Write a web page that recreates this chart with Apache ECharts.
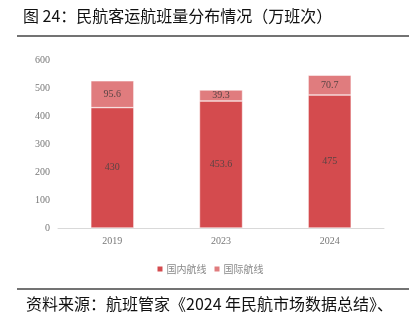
<!DOCTYPE html>
<html><head><meta charset="utf-8">
<script src="https://cdn.jsdelivr.net/npm/echarts@6/dist/echarts.min.js"></script>
<style>html,body{margin:0;padding:0;background:#fff}#c{width:419px;height:324px}</style>
</head><body><div id="c"></div>
<script>
var categories = ['2019', '2023', '2024'];
var domestic = [430, 453.6, 475];
var international = [95.6, 39.3, 70.7];
var seriesNames = ['国内航线', '国际航线'];
var titleText = '图 24：民航客运航班量分布情况（万班次）';
var sourceText = '资料来源：航班管家《2024 年民航市场数据总结》、';

var chart = echarts.init(document.getElementById('c'), null, {renderer: 'canvas'});
var serif = '"Liberation Serif","DejaVu Serif",serif';
var cjk = '"Noto Sans CJK SC",sans-serif';
var labelStyle = {show: true, position: 'inside', color: '#5a4444', fontSize: 10, fontFamily: serif};
chart.setOption({
  animation: false,
  grid: {left: 58, right: 35, top: 60, bottom: 96, containLabel: false},
  legend: {
    data: seriesNames, left: 'center', top: 259, itemWidth: 7, itemHeight: 7, itemGap: 6,
    icon: 'rect', textStyle: {color: '#888', fontSize: 10, fontFamily: cjk, padding: [0, 0, 0, -2]}
  },
  xAxis: {
    type: 'category', data: categories,
    axisLine: {lineStyle: {color: '#d9d9d9'}}, axisTick: {show: false},
    axisLabel: {color: '#777', fontSize: 10, fontFamily: serif, margin: 8}
  },
  yAxis: {
    type: 'value', min: 0, max: 600, interval: 100,
    axisLine: {show: false}, axisTick: {show: false}, splitLine: {show: false},
    axisLabel: {color: '#777', fontSize: 10, fontFamily: serif, margin: 8}
  },
  series: [
    {name: seriesNames[0], type: 'bar', stack: 'a', data: domestic, barWidth: 43,
     itemStyle: {color: '#d44b4e', borderColor: '#fff', borderWidth: 0.5}, label: labelStyle},
    {name: seriesNames[1], type: 'bar', stack: 'a', data: international, barWidth: 43,
     itemStyle: {color: '#e07c7e', borderColor: '#fff', borderWidth: 0.5}, label: labelStyle}
  ],
  graphic: [
    {type: 'text', left: 23, top: 8, style: {text: titleText, font: '16px ' + cjk, fill: '#111'}},
    {type: 'line', shape: {x1: 17, y1: 36, x2: 409, y2: 36}, style: {stroke: '#444', lineWidth: 1.5}},
    {type: 'line', shape: {x1: 17, y1: 289, x2: 409, y2: 289}, style: {stroke: '#444', lineWidth: 1.5}},
    {type: 'text', left: 26, top: 296, style: {text: sourceText, font: '16px ' + cjk, fill: '#111'}}
  ]
});
</script></body></html>
